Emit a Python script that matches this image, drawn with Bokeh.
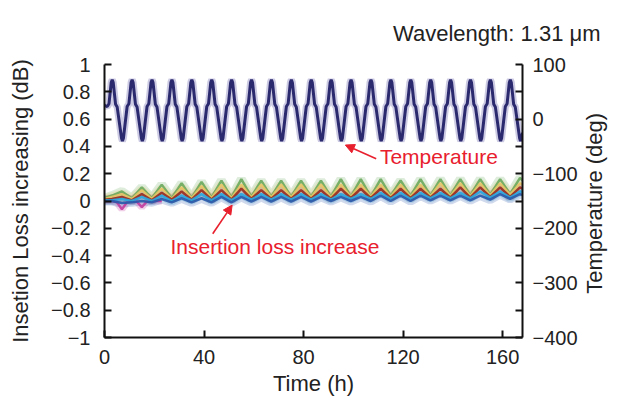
import math
from bokeh.plotting import figure
from bokeh.models import (Range1d, LinearAxis, FixedTicker, CustomJSTickFormatter,
                          Label, Arrow, NormalHead)
from bokeh.embed import file_html
from bokeh.resources import INLINE

# ---------------- data ----------------
# Temperature programme: one 8 h cycle profile (offsets within a cycle) and cycle starts
cycle_start_h = [0, 8, 16, 24, 32, 40, 48, 56, 64, 72, 80, 88, 96, 104, 112, 120,
                 128, 136, 144, 152, 160]
cycle_offset_h = [1.1, 1.8, 2.7, 3.1, 3.5, 4.45, 5.1, 6.85, 7.2, 7.6]
cycle_temp_deg = [23, 28, 67, 72, 67, 27, 22, -35, -40, -35]
temp_first = (0, 25)
temp_last = (168, -25)

# Insertion loss increase (dB), sampled at IL minima / maxima
il_time_h = [0, 3, 7, 11, 15, 19, 23, 27, 31, 35, 39, 43, 47, 51, 55, 59, 63, 67, 71, 75,
             79, 83, 87, 91, 95, 99, 103, 107, 111, 115, 119, 123, 127, 131, 135, 139,
             143, 147, 151, 155, 159, 163, 167, 168]
il_green = [0.02, 0.04, 0.07, 0.02, 0.10, 0.02, 0.12, 0.02, 0.13, 0.02, 0.14, 0.025, 0.15,
            0.025, 0.16, 0.03, 0.15, 0.03, 0.15, 0.03, 0.15, 0.03, 0.15, 0.03, 0.16, 0.03,
            0.16, 0.03, 0.16, 0.035, 0.15, 0.035, 0.16, 0.04, 0.16, 0.04, 0.16, 0.04, 0.16,
            0.045, 0.16, 0.05, 0.17, 0.15]
il_yellow = [0.015, 0.03, 0.05, 0.015, 0.08, 0.015, 0.09, 0.015, 0.10, 0.02, 0.11, 0.02,
             0.12, 0.02, 0.12, 0.025, 0.12, 0.025, 0.12, 0.025, 0.12, 0.025, 0.12, 0.025,
             0.12, 0.03, 0.12, 0.03, 0.12, 0.03, 0.12, 0.03, 0.12, 0.035, 0.13, 0.035, 0.13,
             0.035, 0.13, 0.04, 0.13, 0.045, 0.13, 0.12]
il_red = [0.01, 0.015, 0.03, 0.005, 0.05, 0.005, 0.06, 0.01, 0.07, 0.01, 0.08, 0.01, 0.08,
          0.01, 0.09, 0.015, 0.08, 0.015, 0.08, 0.015, 0.08, 0.015, 0.08, 0.015, 0.09, 0.02,
          0.09, 0.02, 0.09, 0.02, 0.09, 0.02, 0.09, 0.025, 0.09, 0.025, 0.10, 0.025, 0.10,
          0.03, 0.10, 0.03, 0.10, 0.09]
il_cyan = [0.005, 0.005, 0.015, 0.0, 0.03, 0.0, 0.04, 0.0, 0.04, 0.005, 0.05, 0.005, 0.05,
           0.005, 0.05, 0.01, 0.05, 0.01, 0.05, 0.01, 0.05, 0.01, 0.05, 0.01, 0.05, 0.015,
           0.05, 0.015, 0.06, 0.015, 0.06, 0.015, 0.06, 0.02, 0.06, 0.02, 0.06, 0.02, 0.07,
           0.025, 0.07, 0.025, 0.07, 0.065]
il_blue = [0.0, 0.0, -0.015, -0.01, 0.0, -0.01, 0.015, -0.01, 0.02, -0.01, 0.02, -0.01, 0.03,
           -0.01, 0.03, -0.005, 0.03, -0.005, 0.03, -0.005, 0.03, -0.005, 0.03, 0.0, 0.03,
           0.0, 0.03, 0.0, 0.04, 0.0, 0.04, 0.0, 0.04, 0.005, 0.04, 0.005, 0.04, 0.005, 0.04,
           0.01, 0.05, 0.015, 0.05, 0.045]
mag_time_h = [0, 3, 5, 7, 9, 11, 13, 15, 17, 19, 23]
il_magenta = [0.0, 0.0, -0.01, -0.06, -0.01, 0.0, -0.005, -0.045, -0.005, 0.0, 0.0]

left_ticks = [-1, -0.8, -0.6, -0.4, -0.2, 0, 0.2, 0.4, 0.6, 0.8, 1]
right_ticks = [-400, -300, -200, -100, 0, 100]
right_minor_ticks = [-350, -250, -150, -50, 50]
x_ticks = [0, 40, 80, 120, 160]
right_title = "Temperature (deg)"
right_title_start = -320   # where the rotated right-hand title begins (temperature units)

# ---------------- styling ----------------
FONT = "Liberation Sans"
TXT = "#222222"
RED = "#e8202e"

temp_t = [temp_first[0]] + [s + o for s in cycle_start_h for o in cycle_offset_h] + [temp_last[0]]
temp_v = [temp_first[1]] + [v for s in cycle_start_h for v in cycle_temp_deg] + [temp_last[1]]

p = figure(width=622, height=400, output_backend="svg", toolbar_location=None,
           x_range=Range1d(0, 168), y_range=Range1d(-1, 1),
           min_border_left=104, min_border_right=99, min_border_top=63, min_border_bottom=63,
           title="Wavelength: 1.31 \u03bcm")
p.extra_y_ranges = {"temp": Range1d(-400, 100)}
p.outline_line_color = None
p.xgrid.visible = False
p.ygrid.visible = False
p.background_fill_color = "white"
p.border_fill_color = "white"

p.title.align = "right"
p.title.offset = -78
p.title.standoff = 37
p.title.text_font = FONT
p.title.text_font_size = "22px"
p.title.text_font_style = "normal"
p.title.text_color = TXT

minus_fmt = CustomJSTickFormatter(code="return (tick < 0 ? '\u2212' : '') + Math.abs(tick).toString();")

raxis = LinearAxis(y_range_name="temp")
p.add_layout(raxis, "right")

for ax in (p.xaxis[0], p.yaxis[0], raxis):
    ax.axis_line_width = 2
    ax.axis_line_color = "#111111"
    ax.major_tick_in = 7
    ax.major_tick_out = 0
    ax.major_tick_line_width = 2
    ax.major_tick_line_color = "#111111"
    ax.minor_tick_in = 7
    ax.minor_tick_out = 0
    ax.minor_tick_line_width = 2
    ax.minor_tick_line_color = "#111111"
    ax.major_label_text_font = FONT
    ax.major_label_text_font_size = "20px"
    ax.major_label_text_color = TXT
    ax.formatter = minus_fmt
    ax.axis_label_text_font = FONT
    ax.axis_label_text_font_size = "22px"
    ax.axis_label_text_font_style = "normal"
    ax.axis_label_text_color = TXT

p.xaxis[0].ticker = FixedTicker(ticks=x_ticks)
p.xaxis[0].minor_tick_line_color = None
p.xaxis[0].major_label_standoff = 12
p.xaxis[0].axis_label = "Time (h)"
p.xaxis[0].axis_label_standoff = 4

p.yaxis[0].ticker = FixedTicker(ticks=left_ticks)
p.yaxis[0].minor_tick_line_color = None
p.yaxis[0].major_label_standoff = 14
p.yaxis[0].axis_label = "Insetion Loss increasing (dB)"
p.yaxis[0].axis_label_standoff = 15

raxis.ticker = FixedTicker(ticks=right_ticks, minor_ticks=right_minor_ticks)
raxis.major_label_standoff = 10

# right-hand title: a label-only axis whose single label reads bottom-to-top
rtitle = LinearAxis(y_range_name="temp", axis_line_color=None,
                    major_tick_line_color=None, minor_tick_line_color=None,
                    major_tick_in=0, major_tick_out=0, minor_tick_in=0, minor_tick_out=0,
                    ticker=FixedTicker(ticks=[right_title_start], minor_ticks=[]),
                    formatter=CustomJSTickFormatter(code="return '%s';" % right_title),
                    major_label_orientation=math.pi / 2, major_label_standoff=14,
                    major_label_text_font=FONT, major_label_text_font_size="22px",
                    major_label_text_color=TXT)
p.add_layout(rtitle, "right")

# ---------------- glyphs ----------------
il_series = [
    (il_green, "#6aa85c"),
    (il_yellow, "#e6c466"),
    (il_red, "#9a2a1e"),
    (il_cyan, "#2aa7df"),
    (il_blue, "#2858a8"),
]
p.line(mag_time_h, il_magenta, line_color="#c23c9e", line_width=7, line_alpha=0.25)
for vals, col in il_series:
    p.line(il_time_h, vals, line_color=col, line_width=9, line_alpha=0.22)
p.line(mag_time_h, il_magenta, line_color="#c23c9e", line_width=2.5, line_alpha=0.9)
for vals, col in il_series:
    p.line(il_time_h, vals, line_color=col, line_width=2.5, line_alpha=0.9)

p.line(temp_t, temp_v, y_range_name="temp", line_color="#8e8cc0", line_width=7, line_alpha=0.45)
p.line(temp_t, temp_v, y_range_name="temp", line_color="#2c2a6e", line_width=3)

# ---------------- annotations ----------------
p.add_layout(Arrow(end=NormalHead(size=9, fill_color=RED, line_color=RED),
                   x_start=109.2, y_start=0.31, x_end=96.8, y_end=0.41,
                   line_color=RED, line_width=1.6))
p.add_layout(Label(x=110.7, y=0.328, text="Temperature", text_font=FONT,
                   text_font_size="21px", text_color=RED, text_baseline="alphabetic"))
p.add_layout(Arrow(end=NormalHead(size=9, fill_color=RED, line_color=RED),
                   x_start=43.5, y_start=-0.24, x_end=51.3, y_end=-0.03,
                   line_color=RED, line_width=1.6))
p.add_layout(Label(x=26.5, y=-0.333, text="Insertion loss increase", text_font=FONT,
                   text_font_size="21px", text_color=RED, text_baseline="alphabetic"))

open("out.html", "w").write(file_html(p, INLINE))
